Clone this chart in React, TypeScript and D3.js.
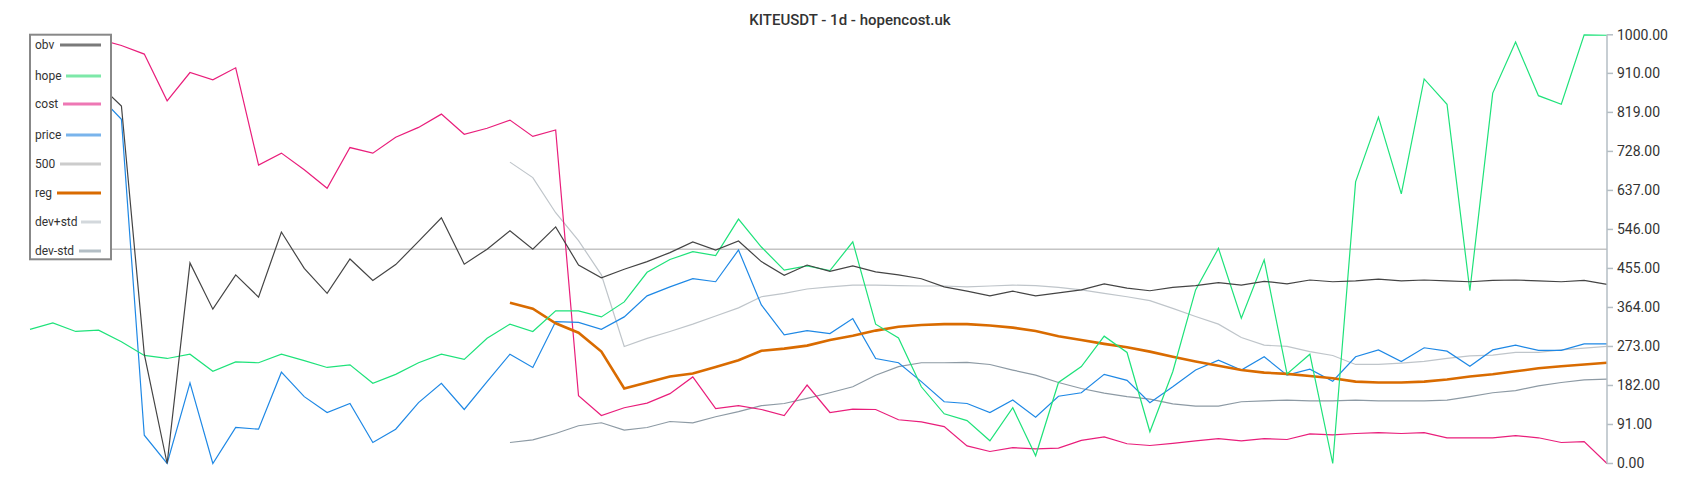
import React from "react";
import * as d3 from "d3";

const title = "KITEUSDT - 1d - hopencost.uk";
const yTicks = [0, 91, 182, 273, 364, 455, 546, 637, 728, 819, 910, 1000];
const threshold = 500;
const bandStart = 21;

const obv = [900, 910, 895, 885, 834, 255, 0, 468, 360, 440, 388, 540, 455, 397, 477, 427, 464, 518, 573, 465, 500, 543, 500, 552, 463, 433, 453, 471, 492, 517, 498, 519, 471, 439, 463, 448, 461, 447, 440, 431, 412, 402, 391, 402, 391, 398, 405, 419, 409, 403, 411, 415, 422, 416, 425, 419, 428, 424, 426, 430, 426, 428, 426, 424, 427, 428, 426, 424, 427, 418];
const hope = [313, 328, 308, 311, 284, 252, 245, 255, 215, 237, 235, 255, 240, 224, 230, 187, 208, 235, 255, 243, 292, 325, 308, 356, 356, 342, 377, 446, 476, 494, 485, 570, 505, 451, 461, 450, 517, 325, 293, 179, 116, 100, 53, 130, 18, 189, 226, 297, 259, 74, 214, 405, 502, 339, 475, 209, 255, 0, 657, 808, 629, 897, 838, 403, 864, 983, 858, 838, 1000, 999];
const cost = [1000, 1000, 998, 990, 975, 955, 846, 912, 895, 923, 696, 724, 685, 642, 737, 724, 761, 784, 815, 768, 782, 801, 763, 778, 158, 112, 130, 141, 163, 202, 128, 135, 126, 112, 183, 119, 127, 126, 102, 97, 86, 41, 28, 37, 34, 36, 54, 62, 46, 42, 47, 53, 58, 53, 58, 56, 69, 67, 70, 72, 70, 72, 60, 60, 60, 65, 60, 49, 51, 0];
const price = [870, 880, 865, 859, 803, 66, 0, 188, 0, 84, 80, 213, 156, 119, 140, 49, 80, 142, 187, 126, 191, 255, 224, 331, 329, 313, 342, 391, 412, 431, 424, 498, 370, 300, 310, 303, 338, 245, 235, 191, 144, 140, 119, 148, 108, 157, 165, 208, 194, 142, 179, 218, 241, 218, 249, 206, 220, 192, 249, 265, 238, 270, 262, 227, 265, 276, 264, 264, 279, 279];
const reg = [375, 361, 327, 305, 261, 175, 189, 203, 210, 225, 241, 263, 268, 275, 288, 298, 310, 319, 323, 325, 325, 322, 317, 309, 297, 288, 279, 271, 261, 249, 238, 228, 218, 212, 209, 204, 199, 191, 189, 189, 191, 196, 203, 208, 215, 222, 227, 231, 235];
const devPlus = [703, 667, 585, 520, 440, 273, 292, 308, 325, 344, 363, 389, 397, 407, 412, 416, 416, 415, 414, 414, 412, 414, 416, 415, 411, 405, 397, 389, 380, 362, 343, 325, 294, 276, 273, 261, 252, 231, 231, 234, 238, 245, 251, 253, 259, 259, 265, 269, 273];
const devMinus = [49, 55, 70, 88, 95, 78, 84, 98, 95, 109, 121, 135, 140, 152, 165, 179, 206, 226, 235, 235, 236, 231, 218, 206, 189, 175, 164, 156, 150, 139, 134, 134, 144, 146, 148, 146, 146, 148, 146, 146, 146, 148, 156, 165, 170, 181, 189, 195, 197];

const legendItems = [
  { name: "obv", color: "#7a7a7a", y: 45, sx: 60 },
  { name: "hope", color: "#7de8a8", y: 76, sx: 66 },
  { name: "cost", color: "#ee77b4", y: 104, sx: 63 },
  { name: "price", color: "#79b4ec", y: 135, sx: 66 },
  { name: "500", color: "#cccccc", y: 164, sx: 60 },
  { name: "reg", color: "#d96b00", y: 193, sx: 57 },
  { name: "dev+std", color: "#d3d8dc", y: 222, sx: 81 },
  { name: "dev-std", color: "#b3bec5", y: 251, sx: 79 },
];

export default function App() {
  const W = 1700, H = 500;
  const n = obv.length;
  const x = d3.scaleLinear().domain([0, n - 1]).range([30, 1607]);
  const y = d3.scaleLinear().domain([0, 1000]).range([463.5, 34.8]);
  const line = d3.line<[number, number]>().x((d) => x(d[0])).y((d) => y(d[1]));
  const full = (arr: number[]) => line(arr.map((v, i) => [i, v] as [number, number])) || "";
  const band = (arr: number[]) => line(arr.map((v, i) => [i + bandStart, v] as [number, number])) || "";
  const font = "Roboto, 'Noto Sans', sans-serif";

  return (
    <svg width={W} height={H} style={{ position: "absolute", left: 0, top: 0, background: "#fff" }} fontFamily={font}>
      <text x={850} y={25} textAnchor="middle" fontSize={15} fontWeight={500} fill="#333">{title}</text>
      <line x1={x(0)} x2={x(n - 1)} y1={y(threshold)} y2={y(threshold)} stroke="#c4c4c4" strokeWidth={1.5} />
      <path d={band(devPlus)} fill="none" stroke="#bfc5ca" strokeWidth={1.2} />
      <path d={band(devMinus)} fill="none" stroke="#8d9aa4" strokeWidth={1.2} />
      <path d={full(cost)} fill="none" stroke="#e91e7b" strokeWidth={1.2} />
      <path d={full(price)} fill="none" stroke="#1e88e5" strokeWidth={1.2} />
      <path d={band(reg)} fill="none" stroke="#d96b00" strokeWidth={2.6} />
      <path d={full(hope)} fill="none" stroke="#1ee27a" strokeWidth={1.2} />
      <path d={full(obv)} fill="none" stroke="#444" strokeWidth={1.2} />
      <line x1={1607} x2={1607} y1={y(1000)} y2={y(0)} stroke="#b4bec4" strokeWidth={1.5} />
      {yTicks.map((t) => (
        <g key={t}>
          <line x1={1607} x2={1613} y1={y(t)} y2={y(t)} stroke="#b4bec4" strokeWidth={1.5} />
          <text x={1617} y={y(t)} dy="0.35em" fontSize={14} fill="#333">{t.toFixed(2)}</text>
        </g>
      ))}
      <rect x={30} y={34.7} width={81} height={224.6} fill="#fff" stroke="#888" strokeWidth={2} />
      {legendItems.map((it) => (
        <g key={it.name}>
          <text x={35} y={it.y} dy="0.35em" fontSize={12} fill="#333">{it.name}</text>
          <line x1={it.sx} x2={101} y1={it.y} y2={it.y} stroke={it.color} strokeWidth={3} />
        </g>
      ))}
    </svg>
  );
}
